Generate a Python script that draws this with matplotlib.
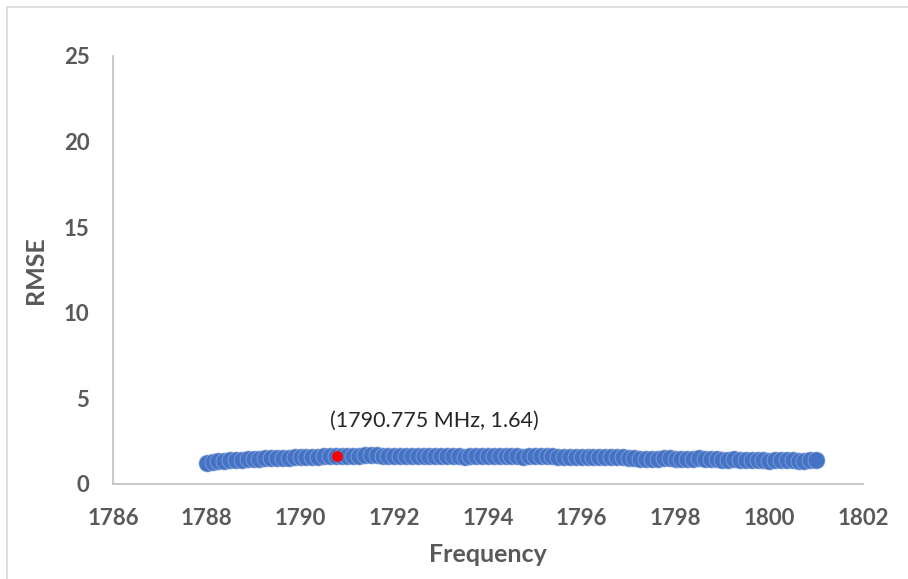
import matplotlib
matplotlib.use("Agg")
import matplotlib.pyplot as plt
from matplotlib.patches import Rectangle

plt.rcParams['font.family'] = ['Lato', 'DejaVu Sans']

# RMSE sweep over frequency (MHz)
frequency = [1788.0, 1788.125, 1788.25, 1788.375, 1788.5, 1788.625, 1788.75, 1788.875,
             1789.0, 1789.125, 1789.25, 1789.375, 1789.5, 1789.625, 1789.75, 1789.875,
             1790.0, 1790.125, 1790.25, 1790.375, 1790.5, 1790.625, 1790.75, 1790.875,
             1791.0, 1791.125, 1791.25, 1791.375, 1791.5, 1791.625, 1791.75, 1791.875,
             1792.0, 1792.125, 1792.25, 1792.375, 1792.5, 1792.625, 1792.75, 1792.875,
             1793.0, 1793.125, 1793.25, 1793.375, 1793.5, 1793.625, 1793.75, 1793.875,
             1794.0, 1794.125, 1794.25, 1794.375, 1794.5, 1794.625, 1794.75, 1794.875,
             1795.0, 1795.125, 1795.25, 1795.375, 1795.5, 1795.625, 1795.75, 1795.875,
             1796.0, 1796.125, 1796.25, 1796.375, 1796.5, 1796.625, 1796.75, 1796.875,
             1797.0, 1797.125, 1797.25, 1797.375, 1797.5, 1797.625, 1797.75, 1797.875,
             1798.0, 1798.125, 1798.25, 1798.375, 1798.5, 1798.625, 1798.75, 1798.875,
             1799.0, 1799.125, 1799.25, 1799.375, 1799.5, 1799.625, 1799.75, 1799.875,
             1800.0, 1800.125, 1800.25, 1800.375, 1800.5, 1800.625, 1800.75, 1800.875,
             1801.0]
rmse = [1.25, 1.30, 1.33, 1.37, 1.40, 1.42, 1.43, 1.45,
        1.46, 1.48, 1.49, 1.51, 1.52, 1.53, 1.54, 1.56,
        1.57, 1.58, 1.59, 1.60, 1.61, 1.63, 1.64, 1.65,
        1.65, 1.66, 1.66, 1.67, 1.72, 1.68, 1.66, 1.66,
        1.65, 1.65, 1.64, 1.64, 1.63, 1.62, 1.62, 1.63,
        1.63, 1.65, 1.66, 1.62, 1.58, 1.62, 1.65, 1.66,
        1.66, 1.65, 1.64, 1.63, 1.62, 1.61, 1.60, 1.61,
        1.62, 1.63, 1.63, 1.62, 1.60, 1.59, 1.58, 1.59,
        1.60, 1.59, 1.58, 1.56, 1.55, 1.56, 1.57, 1.55,
        1.52, 1.50, 1.48, 1.46, 1.45, 1.47, 1.50, 1.49,
        1.47, 1.45, 1.44, 1.47, 1.50, 1.48, 1.46, 1.44,
        1.42, 1.43, 1.44, 1.43, 1.41, 1.40, 1.40, 1.38,
        1.37, 1.38, 1.39, 1.39, 1.38, 1.37, 1.37, 1.38,
        1.38]

# Highlighted point
best_freq = 1790.775
best_rmse = 1.64
best_label = "(1790.775 MHz, 1.64)"

x_ticks = [1786, 1788, 1790, 1792, 1794, 1796, 1798, 1800, 1802]
y_ticks = [0, 5, 10, 15, 20, 25]

fig = plt.figure(figsize=(9.08, 5.79), dpi=100)
ax = fig.add_axes([113 / 908, 1 - 484 / 579, (863 - 113) / 908, (484 - 56) / 579])

# light chart-area frame
fig.patches.append(Rectangle((7 / 908, -0.05), 1.1, 1 - 7 / 579 + 0.05,
                             transform=fig.transFigure, fill=False,
                             edgecolor='#d9d9d9', linewidth=1.2, zorder=0))

ax.scatter(frequency, rmse, s=150, color='#4472C4', edgecolors='#8faadc',
           linewidths=0.5, zorder=2)
ax.scatter([best_freq], [best_rmse], s=60, color='#FF0000', zorder=3,
           linewidths=0)
ax.annotate(best_label, xy=(best_freq, best_rmse), xytext=(70, 25),
            textcoords='offset points', ha='center', va='center',
            fontsize=15.5, color='#262626')

ax.set_xlim(1786, 1802)
ax.set_ylim(0, 25)
ax.set_xticks(x_ticks)
ax.set_yticks(y_ticks)
ax.tick_params(axis='both', length=0, labelsize=16, labelcolor='#595959')
ax.tick_params(axis='x', pad=17)
ax.tick_params(axis='y', pad=17)
for lbl in ax.get_xticklabels() + ax.get_yticklabels():
    lbl.set_fontweight('bold')

for side in ('top', 'right'):
    ax.spines[side].set_visible(False)
for side in ('left', 'bottom'):
    ax.spines[side].set_color('#bfbfbf')
    ax.spines[side].set_linewidth(1.2)

ax.set_xlabel('Frequency', fontsize=18, fontweight='bold', color='#595959', labelpad=10)
ax.set_ylabel('RMSE', fontsize=18, fontweight='bold', color='#595959', labelpad=12)

fig.savefig('out.png', dpi=100)
